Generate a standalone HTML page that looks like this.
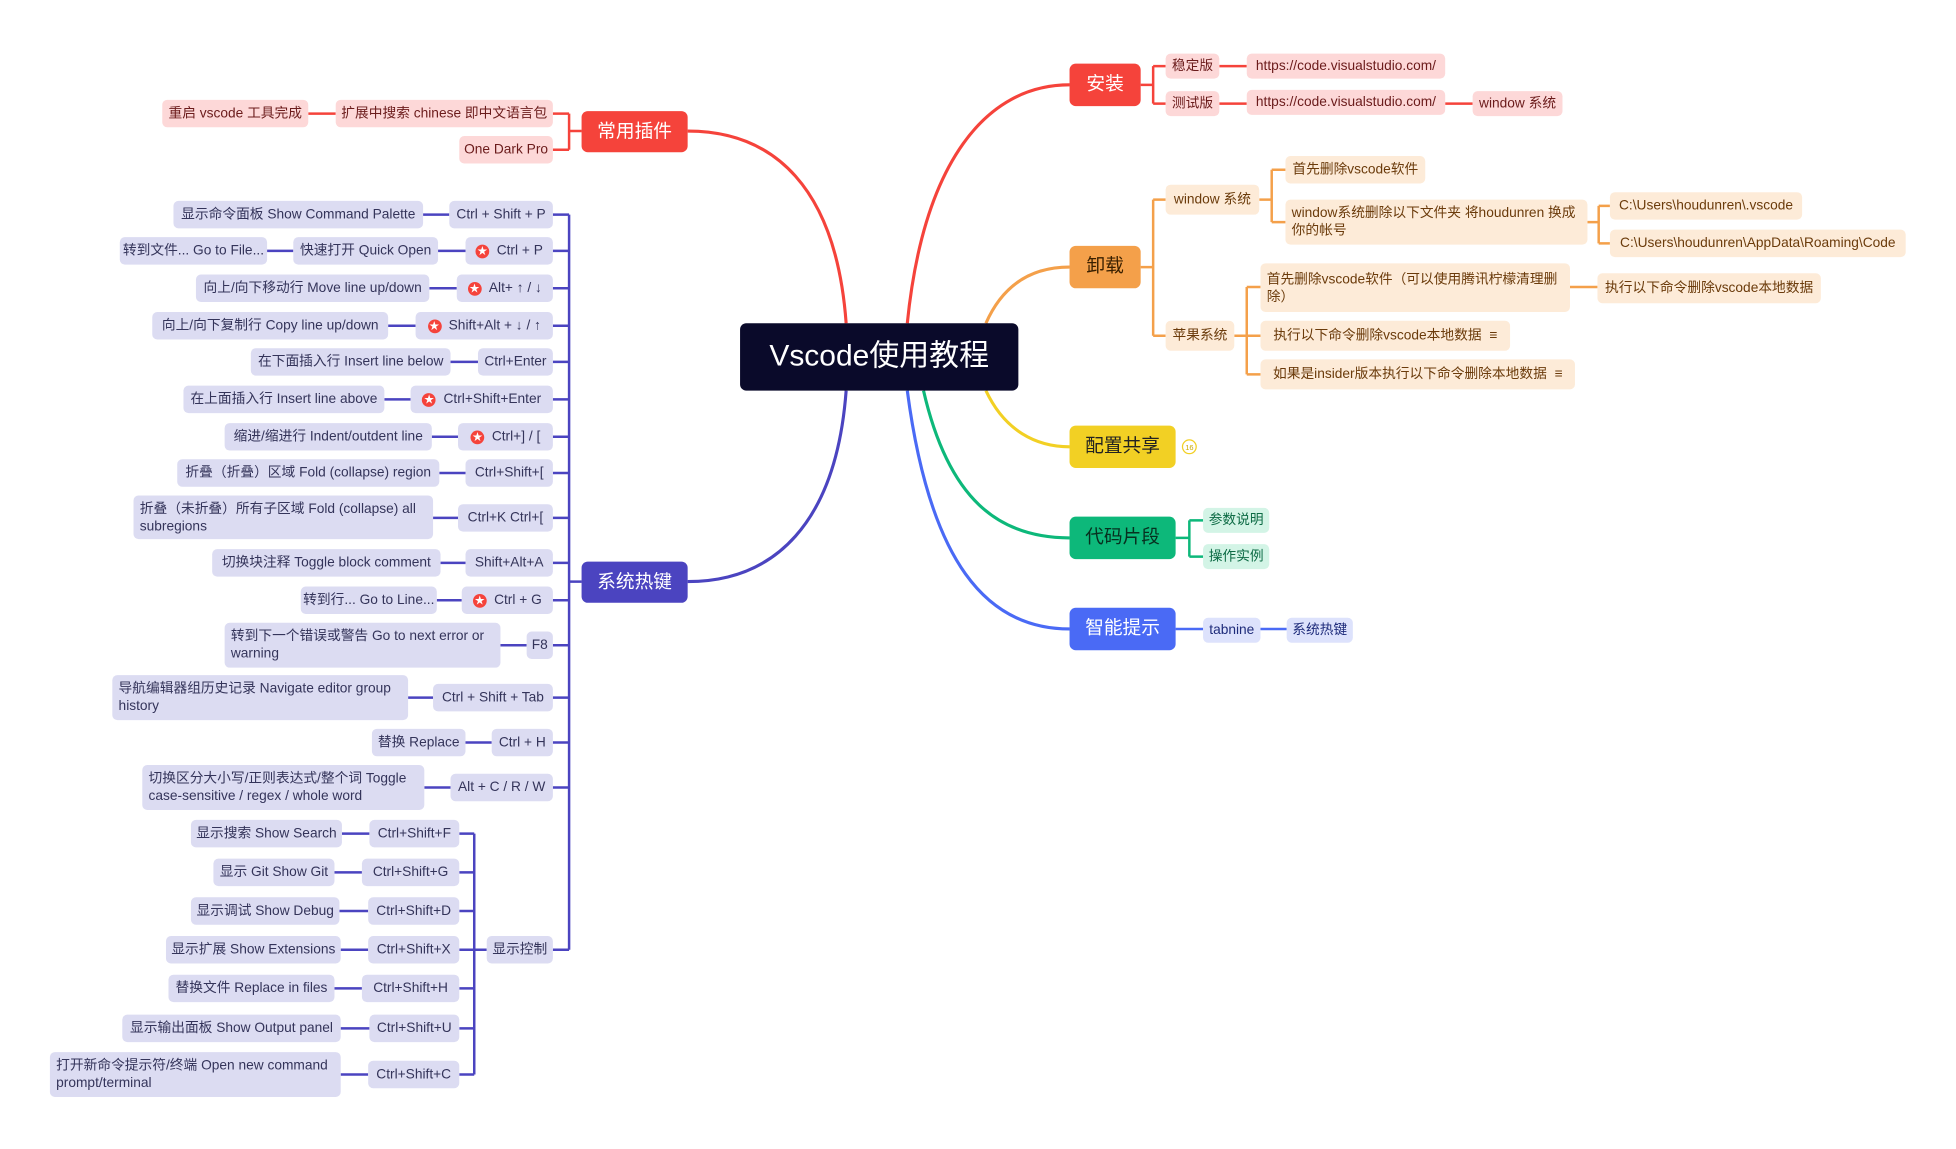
<!DOCTYPE html>
<html><head><meta charset="utf-8">
<style>
html,body{margin:0;padding:0;background:#fff;overflow:hidden}
#w{position:relative;width:1956px;height:1149px;overflow:hidden}
#s{position:absolute;left:0;top:0;width:1560px;height:920px;transform:scale(1.248);transform-origin:0 0;font-family:"Liberation Sans","Noto Sans CJK SC",sans-serif}
.n{position:absolute;display:flex;align-items:center;justify-content:center;box-sizing:border-box;padding:0 5px;border-radius:4px;font-size:11px;line-height:14px;white-space:nowrap}
.ml{white-space:normal;justify-content:flex-start}
.m{color:#fff;font-size:15px;border-radius:5px}
.r{background:#fdd8d8;color:#6b1b1b}
.o{background:#fdebd8;color:#6b3b0b}
.g{background:#d3f4e6;color:#0d6b45}
.b{background:#dde2fc;color:#1e2b7a}
.p{background:#dcdcf2;color:#34345a}
.st{display:inline-block;width:11px;height:11px;border-radius:50%;background:#f5433b;color:#fff;font-size:8px;line-height:11px;text-align:center;margin-right:6px}
svg{position:absolute;left:0;top:0}
</style></head><body><div id="w"><div id="s">
<svg width="1560" height="920" fill="none" stroke-width="2">
<g stroke-width="2.5">
<path d="M678,259 C670,150 620,105 551,105" stroke="#f5433b"/>
<path d="M678,313 C670,420 620,466 551,466" stroke="#4b44c0"/>
<path d="M727,259 C740,130 790,68 857,68" stroke="#f5433b"/>
<path d="M790,259 C805,225 830,214 857,214" stroke="#f4a04a"/>
<path d="M790,313 C805,345 830,358 857,358" stroke="#f2d024"/>
<path d="M740,313 C760,400 800,431 857,431" stroke="#0db87a"/>
<path d="M727,313 C745,450 790,504 857,504" stroke="#4a6af5"/>
</g>
<g stroke="#f5433b">
<path d="M914,68 H924 M924,53 V83 M924,53 H934 M924,83 H934 M977,53 H999 M977,83 H999 M1158,83 H1180"/>
<path d="M466,105 H456 M456,91 V120 M456,91 H443 M456,120 H443 M269,91 H247"/>
</g>
<g stroke="#f4a04a">
<path d="M914,214 H924 M924,160 V269 M924,160 H934 M924,269 H934 M1009,160 H1019 M1019,136 V178 M1019,136 H1030 M1019,178 H1030 M1272,178 H1281 M1281,165 V195 M1281,165 H1290 M1281,195 H1290 M989,269 H1010 M999,230 V300 M999,230 H1010 M999,300 H1010 M1258,230 H1280"/>
</g>
<g stroke="#0db87a"><path d="M942,431 H953 M953,417 V446 M953,417 H964 M953,446 H964"/></g>
<g stroke="#4a6af5"><path d="M942,504 H964 M1010,504 H1031"/></g>
<g stroke="#4b44c0">
<path d="M466,466 H456 M456,172 V761
M443,172 H456 M443,201 H456 M443,231 H456 M443,261 H456 M443,290 H456 M443,320 H456 M443,350 H456 M443,379 H456 M443,415 H456 M443,451 H456 M443,481 H456 M443,517 H456 M443,559 H456 M443,595 H456 M443,631 H456 M443,761 H456
M339,172 H360 M351,201 H373 M214,201 H235 M344,231 H366 M311,261 H333 M361,290 H383 M308,320 H329 M346,350 H367 M352,379 H373 M347,415 H367 M353,451 H373 M350,481 H370 M401,517 H422 M327,559 H347 M373,595 H394 M340,631 H361
M390,761 H380 M380,668 V861 M368,668 H380 M368,699 H380 M368,730 H380 M368,761 H380 M368,792 H380 M368,824 H380 M368,861 H380
M274,668 H296 M268,699 H290 M272,730 H295 M273,761 H295 M268,792 H290 M273,824 H296 M273,861 H295"/>
</g>
<circle cx="953" cy="358" r="5.5" stroke="#f2d024" stroke-width="1" fill="#fff"/>
<text x="953" y="360.5" font-size="6" fill="#c9a800" text-anchor="middle" font-family="Liberation Sans" stroke="none">16</text>
</svg>

<div class="n m" style="left:593px;top:259px;width:223px;height:54px;background:#0a0a2a;font-size:24px;border-radius:5px">Vscode使用教程</div>

<div class="n m" style="left:857px;top:51px;width:57px;height:34px;background:#f5433b">安装</div>
<div class="n r" style="left:934px;top:43px;width:43px;height:20px">稳定版</div>
<div class="n r" style="left:999px;top:43px;width:159px;height:20px">https://code.visualstudio.com/</div>
<div class="n r" style="left:934px;top:73px;width:43px;height:20px">测试版</div>
<div class="n r" style="left:999px;top:72px;width:159px;height:20px">https://code.visualstudio.com/</div>
<div class="n r" style="left:1180px;top:73px;width:72px;height:20px">window 系统</div>

<div class="n m" style="left:857px;top:197px;width:57px;height:34px;background:#f4a04a;color:#3a2000">卸载</div>
<div class="n o" style="left:934px;top:148px;width:75px;height:24px">window 系统</div>
<div class="n o" style="left:1030px;top:125px;width:112px;height:22px">首先删除vscode软件</div>
<div class="n o ml" style="left:1030px;top:160px;width:242px;height:36px">window系统删除以下文件夹 将houdunren 换成你的帐号</div>
<div class="n o" style="left:1290px;top:154px;width:154px;height:22px">C:\Users\houdunren\.vscode</div>
<div class="n o" style="left:1290px;top:184px;width:237px;height:22px">C:\Users\houdunren\AppData\Roaming\Code</div>
<div class="n o" style="left:934px;top:257px;width:55px;height:24px">苹果系统</div>
<div class="n o ml" style="left:1010px;top:211px;width:248px;height:39px">首先删除vscode软件（可以使用腾讯柠檬清理删除）</div>
<div class="n o" style="left:1280px;top:219px;width:179px;height:24px">执行以下命令删除vscode本地数据</div>
<div class="n o" style="left:1010px;top:257px;width:200px;height:24px">执行以下命令删除vscode本地数据&nbsp;&nbsp;≡</div>
<div class="n o" style="left:1010px;top:288px;width:252px;height:24px">如果是insider版本执行以下命令删除本地数据&nbsp;&nbsp;≡</div>

<div class="n m" style="left:857px;top:341px;width:85px;height:34px;background:#f2d024;color:#222">配置共享</div>

<div class="n m" style="left:857px;top:414px;width:85px;height:34px;background:#0db87a;color:#07301f">代码片段</div>
<div class="n g" style="left:964px;top:407px;width:53px;height:20px">参数说明</div>
<div class="n g" style="left:964px;top:436px;width:53px;height:20px">操作实例</div>

<div class="n m" style="left:857px;top:487px;width:85px;height:34px;background:#4a6af5">智能提示</div>
<div class="n b" style="left:964px;top:495px;width:46px;height:20px">tabnine</div>
<div class="n b" style="left:1031px;top:495px;width:53px;height:20px">系统热键</div>

<div class="n m" style="left:466px;top:89px;width:85px;height:33px;background:#f5433b">常用插件</div>
<div class="n r" style="left:269px;top:80px;width:174px;height:22px">扩展中搜索 chinese 即中文语言包</div>
<div class="n r" style="left:130px;top:80px;width:117px;height:22px">重启 vscode 工具完成</div>
<div class="n r" style="left:368px;top:109px;width:75px;height:22px">One Dark Pro</div>

<div class="n m" style="left:466px;top:450px;width:85px;height:33px;background:#4b44c0">系统热键</div>

<div class="n p" style="left:360px;top:161px;width:83px;height:22px">Ctrl + Shift + P</div>
<div class="n p" style="left:139px;top:161px;width:200px;height:22px">显示命令面板 Show Command Palette</div>
<div class="n p" style="left:373px;top:190px;width:70px;height:22px"><span class="st">★</span>Ctrl + P</div>
<div class="n p" style="left:235px;top:190px;width:116px;height:22px">快速打开 Quick Open</div>
<div class="n p" style="left:96px;top:190px;width:118px;height:22px">转到文件... Go to File...</div>
<div class="n p" style="left:366px;top:220px;width:77px;height:22px"><span class="st">★</span>Alt+ ↑ / ↓</div>
<div class="n p" style="left:157px;top:220px;width:187px;height:22px">向上/向下移动行 Move line up/down</div>
<div class="n p" style="left:333px;top:250px;width:110px;height:22px"><span class="st">★</span>Shift+Alt + ↓ / ↑</div>
<div class="n p" style="left:122px;top:250px;width:189px;height:22px">向上/向下复制行 Copy line up/down</div>
<div class="n p" style="left:383px;top:279px;width:60px;height:22px">Ctrl+Enter</div>
<div class="n p" style="left:201px;top:279px;width:160px;height:22px">在下面插入行 Insert line below</div>
<div class="n p" style="left:329px;top:309px;width:114px;height:22px"><span class="st">★</span>Ctrl+Shift+Enter</div>
<div class="n p" style="left:147px;top:309px;width:161px;height:22px">在上面插入行 Insert line above</div>
<div class="n p" style="left:367px;top:339px;width:76px;height:22px"><span class="st">★</span>Ctrl+] / [</div>
<div class="n p" style="left:180px;top:339px;width:166px;height:22px">缩进/缩进行 Indent/outdent line</div>
<div class="n p" style="left:373px;top:368px;width:70px;height:22px">Ctrl+Shift+[</div>
<div class="n p" style="left:142px;top:368px;width:210px;height:22px">折叠（折叠）区域 Fold (collapse) region</div>
<div class="n p" style="left:367px;top:404px;width:76px;height:22px">Ctrl+K Ctrl+[</div>
<div class="n p ml" style="left:107px;top:397px;width:240px;height:35px">折叠（未折叠）所有子区域 Fold (collapse) all subregions</div>
<div class="n p" style="left:373px;top:440px;width:70px;height:22px">Shift+Alt+A</div>
<div class="n p" style="left:170px;top:440px;width:183px;height:22px">切换块注释 Toggle block comment</div>
<div class="n p" style="left:370px;top:470px;width:73px;height:22px"><span class="st">★</span>Ctrl + G</div>
<div class="n p" style="left:241px;top:470px;width:109px;height:22px">转到行... Go to Line...</div>
<div class="n p" style="left:422px;top:506px;width:21px;height:22px;padding:0">F8</div>
<div class="n p ml" style="left:180px;top:499px;width:221px;height:36px">转到下一个错误或警告 Go to next error or warning</div>
<div class="n p" style="left:347px;top:548px;width:96px;height:22px">Ctrl + Shift + Tab</div>
<div class="n p ml" style="left:90px;top:541px;width:237px;height:36px">导航编辑器组历史记录 Navigate editor group history</div>
<div class="n p" style="left:394px;top:584px;width:49px;height:22px">Ctrl + H</div>
<div class="n p" style="left:298px;top:584px;width:75px;height:22px">替换 Replace</div>
<div class="n p" style="left:361px;top:620px;width:82px;height:22px">Alt + C / R / W</div>
<div class="n p ml" style="left:114px;top:613px;width:226px;height:36px">切换区分大小写/正则表达式/整个词 Toggle case-sensitive / regex / whole word</div>
<div class="n p" style="left:390px;top:750px;width:53px;height:22px">显示控制</div>

<div class="n p" style="left:296px;top:657px;width:72px;height:22px">Ctrl+Shift+F</div>
<div class="n p" style="left:153px;top:657px;width:121px;height:22px">显示搜索 Show Search</div>
<div class="n p" style="left:290px;top:688px;width:78px;height:22px">Ctrl+Shift+G</div>
<div class="n p" style="left:171px;top:688px;width:97px;height:22px">显示 Git Show Git</div>
<div class="n p" style="left:295px;top:719px;width:73px;height:22px">Ctrl+Shift+D</div>
<div class="n p" style="left:153px;top:719px;width:119px;height:22px">显示调试 Show Debug</div>
<div class="n p" style="left:295px;top:750px;width:73px;height:22px">Ctrl+Shift+X</div>
<div class="n p" style="left:133px;top:750px;width:140px;height:22px">显示扩展 Show Extensions</div>
<div class="n p" style="left:290px;top:781px;width:78px;height:22px">Ctrl+Shift+H</div>
<div class="n p" style="left:135px;top:781px;width:133px;height:22px">替换文件 Replace in files</div>
<div class="n p" style="left:296px;top:813px;width:72px;height:22px">Ctrl+Shift+U</div>
<div class="n p" style="left:98px;top:813px;width:175px;height:22px">显示输出面板 Show Output panel</div>
<div class="n p" style="left:295px;top:850px;width:73px;height:22px">Ctrl+Shift+C</div>
<div class="n p ml" style="left:40px;top:843px;width:233px;height:36px">打开新命令提示符/终端 Open new command prompt/terminal</div>
</div></div></body></html>
